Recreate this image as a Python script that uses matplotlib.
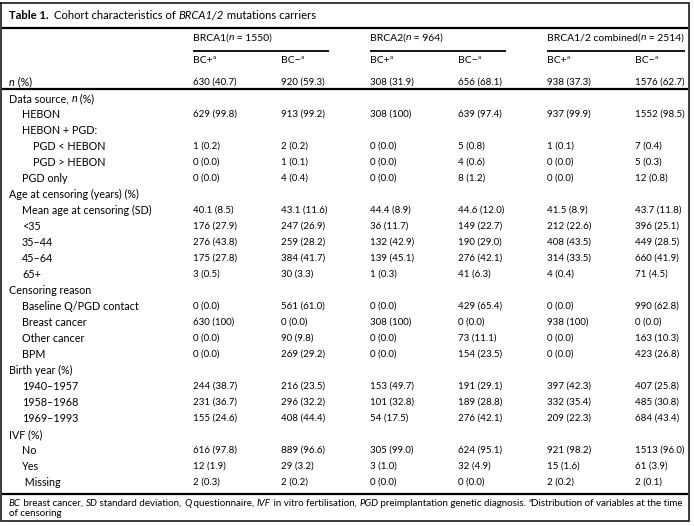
import matplotlib
matplotlib.use("Agg")
import matplotlib.pyplot as plt
from matplotlib.lines import Line2D

FONT = "Lato"
FS = 7.75       # labels
FS_TITLE = 8.1
FS_NUM = 7.05   # numeric cells
FS_HEAD = 7.5   # group headers
FS_FOOT = 7.05

# ---------------- data ----------------
title_label = "Table 1."
title_text = [("Cohort characteristics of ", "normal"), ("BRCA1/2", "italic"), (" mutations carriers", "normal")]

groups = ["BRCA1", "BRCA2", "BRCA1/2 combined"]
group_n = ["1550", "964", "2514"]
subheads = ["BC+", "BC\u2212"]

n_pct = ["630 (40.7)", "920 (59.3)", "308 (31.9)", "656 (68.1)", "938 (37.3)", "1576 (62.7)"]

row_labels = [
    "Data source, n (%)", "HEBON", "HEBON + PGD:", "PGD < HEBON", "PGD > HEBON", "PGD only",
    "Age at censoring (years) (%)", "Mean age at censoring (SD)", "<35", "35\u201344", "45\u201364", "65+",
    "Censoring reason", "Baseline Q/PGD contact", "Breast cancer", "Other cancer", "BPM",
    "Birth year (%)", "1940\u20131957", "1958\u20131968", "1969\u20131993",
    "IVF (%)", "No", "Yes", " Missing",
]
row_indent = [0, 1, 1, 2, 2, 1,
              0, 1, 1, 1, 1, 1,
              0, 1, 1, 1, 1,
              0, 1, 1, 1,
              0, 1, 1, 1]

brca1_pos = ["", "629 (99.8)", "", "1 (0.2)", "0 (0.0)", "0 (0.0)",
             "", "40.1 (8.5)", "176 (27.9)", "276 (43.8)", "175 (27.8)", "3 (0.5)",
             "", "0 (0.0)", "630 (100)", "0 (0.0)", "0 (0.0)",
             "", "244 (38.7)", "231 (36.7)", "155 (24.6)",
             "", "616 (97.8)", "12 (1.9)", "2 (0.3)"]
brca1_neg = ["", "913 (99.2)", "", "2 (0.2)", "1 (0.1)", "4 (0.4)",
             "", "43.1 (11.6)", "247 (26.9)", "259 (28.2)", "384 (41.7)", "30 (3.3)",
             "", "561 (61.0)", "0 (0.0)", "90 (9.8)", "269 (29.2)",
             "", "216 (23.5)", "296 (32.2)", "408 (44.4)",
             "", "889 (96.6)", "29 (3.2)", "2 (0.2)"]
brca2_pos = ["", "308 (100)", "", "0 (0.0)", "0 (0.0)", "0 (0.0)",
             "", "44.4 (8.9)", "36 (11.7)", "132 (42.9)", "139 (45.1)", "1 (0.3)",
             "", "0 (0.0)", "308 (100)", "0 (0.0)", "0 (0.0)",
             "", "153 (49.7)", "101 (32.8)", "54 (17.5)",
             "", "305 (99.0)", "3 (1.0)", "0 (0.0)"]
brca2_neg = ["", "639 (97.4)", "", "5 (0.8)", "4 (0.6)", "8 (1.2)",
             "", "44.6 (12.0)", "149 (22.7)", "190 (29.0)", "276 (42.1)", "41 (6.3)",
             "", "429 (65.4)", "0 (0.0)", "73 (11.1)", "154 (23.5)",
             "", "191 (29.1)", "189 (28.8)", "276 (42.1)",
             "", "624 (95.1)", "32 (4.9)", "0 (0.0)"]
comb_pos = ["", "937 (99.9)", "", "1 (0.1)", "0 (0.0)", "0 (0.0)",
            "", "41.5 (8.9)", "212 (22.6)", "408 (43.5)", "314 (33.5)", "4 (0.4)",
            "", "0 (0.0)", "938 (100)", "0 (0.0)", "0 (0.0)",
            "", "397 (42.3)", "332 (35.4)", "209 (22.3)",
            "", "921 (98.2)", "15 (1.6)", "2 (0.2)"]
comb_neg = ["", "1552 (98.5)", "", "7 (0.4)", "5 (0.3)", "12 (0.8)",
            "", "43.7 (11.8)", "396 (25.1)", "449 (28.5)", "660 (41.9)", "71 (4.5)",
            "", "990 (62.8)", "0 (0.0)", "163 (10.3)", "423 (26.8)",
            "", "407 (25.8)", "485 (30.8)", "684 (43.4)",
            "", "1513 (96.0)", "61 (3.9)", "2 (0.1)"]

footnote1 = [("BC", "italic"), (" breast cancer, ", "normal"), ("SD", "italic"), (" standard deviation, ", "normal"),
             ("Q", "italic"), (" questionnaire, ", "normal"), ("IVF", "italic"), (" in vitro fertilisation, ", "normal"),
             ("PGD", "italic"), (" preimplantation genetic diagnosis. ", "normal"), ("a", "sup"),
             ("Distribution of variables at the time", "normal")]
footnote2 = [("of censoring", "normal")]

# ---------------- drawing ----------------
W, H = 694, 526
fig = plt.figure(figsize=(W / 100, H / 100), dpi=100)
ax = fig.add_axes([0, 0, 1, 1])
ax.set_xlim(0, W)
ax.set_ylim(H, 0)
ax.axis("off")
renderer = fig.canvas.get_renderer()


def segs(x, y, parts, size=FS):
    for txt, style in parts:
        kw = dict(fontfamily=FONT, fontsize=size, va="center", ha="left", color="black")
        yy = y
        if style == "italic":
            kw["fontstyle"] = "italic"
        elif style == "bold":
            kw["fontweight"] = "bold"
        elif style == "sup":
            kw["fontsize"] = size * 0.62
            yy = y - 3
        t = ax.text(x, yy, txt, **kw)
        bb = t.get_window_extent(renderer)
        x = ax.transData.inverted().transform((bb.x1, 0))[0]
    return x


def hline(x0, x1, y, lw, color="black"):
    ax.add_line(Line2D([x0, x1], [y, y], lw=lw, color=color, solid_capstyle="butt"))


# frame
frame_c = "#1a1a1a"
ax.add_line(Line2D([1.5, 689.5, 689.5, 1.5, 1.5], [2.5, 2.5, 520.5, 520.5, 2.5], lw=1.2,
                   color=frame_c, solid_joinstyle="miter"))

# title
segs(9, 15.5, [(title_label, "bold")], size=FS_TITLE)
segs(54, 15.5, title_text, size=FS_TITLE)
hline(2, 688, 28, 1.6)

# group headers
col_x = [193, 281, 370, 458, 547, 635]
under = [(193, 329), (370, 506), (547, 685)]
for gi, (g, n) in enumerate(zip(groups, group_n)):
    segs(col_x[2 * gi], 38, [(g + "(", "normal"), ("n", "italic"), (" = " + n + ")", "normal")], size=FS_HEAD)
    hline(under[gi][0], under[gi][1], 51, 1.3)
    for si, s in enumerate(subheads):
        segs(col_x[2 * gi + si], 60.5, [(s, "normal"), ("a", "sup")], size=FS_HEAD)

# n (%) row
segs(9, 82, [("n", "italic"), (" (%)", "normal")])
for ci, v in enumerate(n_pct):
    segs(col_x[ci], 82, [(v, "normal")], size=FS_NUM)
hline(2, 688, 89, 1.6)

# body rows
indent_x = [9, 22, 33]
cols = [brca1_pos, brca1_neg, brca2_pos, brca2_neg, comb_pos, comb_neg]
for ri, (lab, ind) in enumerate(zip(row_labels, row_indent)):
    y = 98.5 + ri * 16
    if lab.startswith("Data source"):
        segs(indent_x[ind], y, [("Data source, ", "normal"), ("n", "italic"), (" (%)", "normal")])
    else:
        segs(indent_x[ind], y, [(lab, "normal")])
    for ci, col in enumerate(cols):
        if col[ri]:
            segs(col_x[ci], y, [(col[ri], "normal")], size=FS_NUM)

hline(2, 688, 494, 1.6)

# footnotes
segs(9, 503.5, footnote1, size=FS_FOOT)
segs(9, 514, footnote2, size=FS_FOOT)

fig.savefig("out.png", dpi=100)
